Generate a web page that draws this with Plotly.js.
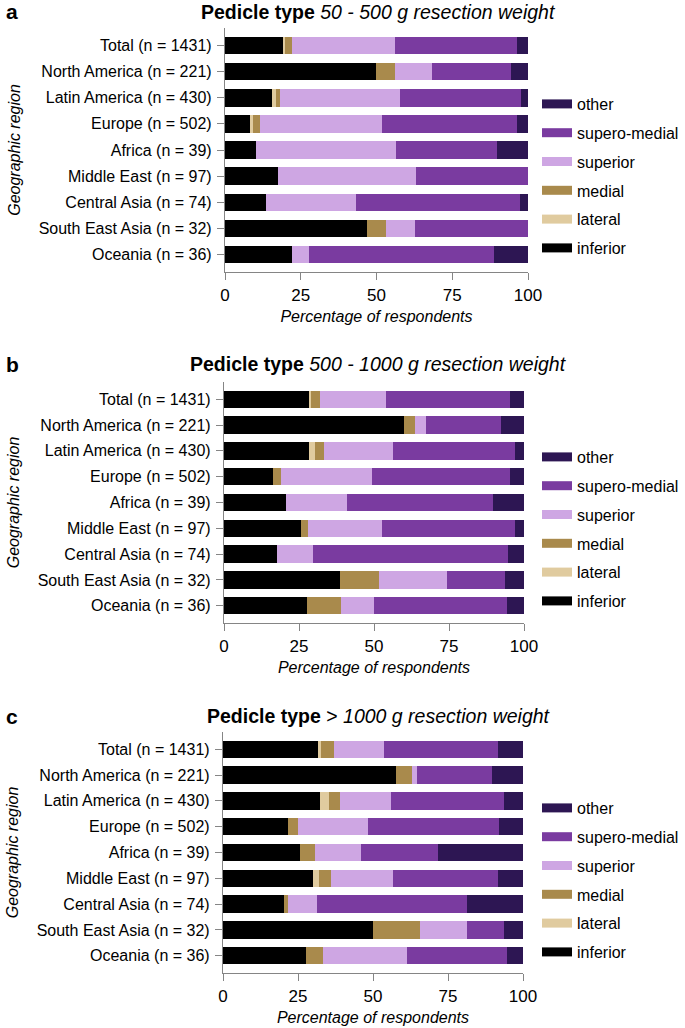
<!DOCTYPE html>
<html><head><meta charset="utf-8">
<script src="https://cdn.plot.ly/plotly-3.0.1.min.js"></script>
<style>html,body{margin:0;padding:0;background:#fff}</style>
</head><body><div id="chart" style="width:685px;height:1028px"></div>
<script>
// ---------- DATA ----------
const regions = ["Total (n = 1431)", "North America (n = 221)", "Latin America (n = 430)", "Europe (n = 502)", "Africa (n = 39)", "Middle East (n = 97)", "Central Asia (n = 74)", "South East Asia (n = 32)", "Oceania (n = 36)"];
const seriesNames = ["inferior", "lateral", "medial", "superior", "supero-medial", "other"];
const seriesColors = ["#000000", "#e0cb9f", "#a98a4c", "#cea6e3", "#7a3ba0", "#2d1653"];
const panelLetters = ["a", "b", "c"];
const panelTitles = [
  "<b>Pedicle type</b> <i>50 - 500 g resection weight</i>",
  "<b>Pedicle type</b> <i>500 - 1000 g resection weight</i>",
  "<b>Pedicle type</b> &gt; <i>1000 g resection weight</i>"
];
const xTickVals = [0, 25, 50, 75, 100];
const xTitle = "Percentage of respondents";
const yTitle = "Geographic region";

// Panel a: 50 - 500 g
const a_inferior     = [19.1, 49.8, 15.5, 8.3, 10.3, 17.5, 13.5, 46.9, 22.2];
const a_lateral      = [0.7, 0, 1.4, 0.8, 0, 0, 0, 0, 0];
const a_medial       = [2.3, 6.4, 1.4, 2.5, 0, 0, 0, 6.3, 0];
const a_superior     = [34.1, 12.1, 39.5, 40.1, 46.2, 45.4, 29.7, 9.4, 5.6];
const a_superoMedial = [40.3, 26.2, 39.9, 44.8, 33.3, 37.1, 54.1, 37.5, 61.1];
const a_other        = [3.5, 5.5, 2.3, 3.5, 10.3, 0, 2.7, 0, 11.1];

// Panel b: 500 - 1000 g
const b_inferior     = [28.2, 60.1, 28.2, 16.2, 20.5, 25.8, 17.6, 38.7, 27.8];
const b_lateral      = [0.7, 0, 2.2, 0, 0, 0, 0, 0, 0];
const b_medial       = [3.2, 3.6, 3.0, 2.9, 0, 2.1, 0, 12.9, 11.1];
const b_superior     = [21.8, 3.5, 23.0, 30.2, 20.5, 24.7, 12.2, 22.6, 11.1];
const b_superoMedial = [41.4, 25.1, 40.7, 46.0, 48.7, 44.3, 64.9, 19.4, 44.4];
const b_other        = [4.7, 7.7, 2.9, 4.7, 10.3, 3.1, 5.4, 6.5, 5.6];

// Panel c: > 1000 g
const c_inferior     = [31.8, 57.6, 32.4, 21.6, 25.6, 29.9, 20.3, 50.0, 27.8];
const c_lateral      = [0.9, 0, 2.8, 0, 0, 2.1, 0, 0, 0];
const c_medial       = [4.3, 5.4, 3.9, 3.4, 5.1, 4.1, 1.4, 15.6, 5.6];
const c_superior     = [16.8, 1.7, 16.8, 23.4, 15.4, 20.6, 9.5, 15.6, 27.8];
const c_superoMedial = [37.8, 25.0, 37.9, 43.6, 25.6, 35.1, 50.0, 12.5, 33.3];
const c_other        = [8.4, 10.3, 6.2, 8.0, 28.2, 8.2, 18.9, 6.3, 5.6];

const panelSeries = [
  [a_inferior, a_lateral, a_medial, a_superior, a_superoMedial, a_other],
  [b_inferior, b_lateral, b_medial, b_superior, b_superoMedial, b_other],
  [c_inferior, c_lateral, c_medial, c_superior, c_superoMedial, c_other]
];

// ---------- LAYOUT GEOMETRY (pixels) ----------
const W = 685, H = 1028;
const FONT = "Liberation Sans, Arial, Helvetica, sans-serif";
const geom = [
  {top: 28,  bottom: 272, left: 225, right: 528, titleY: 12,  legendTop: 87},
  {top: 382, bottom: 623, left: 224, right: 524, titleY: 364, legendTop: 440},
  {top: 732, bottom: 973, left: 223, right: 523, titleY: 716, legendTop: 791}
];
const px = v => v / W;
const py = v => 1 - v / H;
const AX = "#858585";

const data = [];
const layout = {
  width: W, height: H,
  margin: {l: 0, r: 0, t: 0, b: 0},
  paper_bgcolor: "#ffffff", plot_bgcolor: "#ffffff",
  barmode: "stack", bargap: 0.33,
  font: {family: FONT, color: "#000000", size: 16},
  annotations: [],
  showlegend: true
};

geom.forEach((g, i) => {
  const n = i + 1;
  const xa = n === 1 ? "x" : "x" + n;
  const ya = n === 1 ? "y" : "y" + n;
  const xk = n === 1 ? "xaxis" : "xaxis" + n;
  const yk = n === 1 ? "yaxis" : "yaxis" + n;
  const lk = n === 1 ? "legend" : "legend" + n;

  panelSeries[i].forEach((vals, s) => {
    data.push({
      type: "bar", orientation: "h",
      x: vals, y: regions,
      name: seriesNames[s],
      marker: {color: seriesColors[s], line: {width: 0}},
      xaxis: xa, yaxis: ya,
      showlegend: false,
      hovertemplate: "%{y}<br>" + seriesNames[s] + ": %{x}%<extra></extra>"
    });
  });
  // legend entries (wide swatches), top item = "other"
  for (let s = seriesNames.length - 1; s >= 0; s--) {
    data.push({
      type: "scatter", mode: "lines",
      x: [null], y: [null],
      name: seriesNames[s],
      line: {color: seriesColors[s], width: 9},
      xaxis: xa, yaxis: ya,
      legend: lk, legendgroup: lk + seriesNames[s],
      showlegend: true, hoverinfo: "skip"
    });
  }

  layout[xk] = {
    domain: [px(g.left), px(g.right)],
    anchor: ya,
    range: [0, 100], tickvals: xTickVals,
    showgrid: false, zeroline: false,
    showline: true, linecolor: AX, linewidth: 1.3,
    ticks: "outside", ticklen: 7, tickwidth: 1.3, tickcolor: AX,
    tickfont: {size: 17, color: "#000", family: FONT},
    title: {text: "<i>" + xTitle + "</i>", font: {size: 16, color: "#000", family: FONT}, standoff: 7},
    fixedrange: true
  };
  layout[yk] = {
    domain: [py(g.bottom), py(g.top)],
    anchor: xa,
    type: "category", categoryorder: "array", categoryarray: regions,
    range: [8.67, -0.67],
    showgrid: false, zeroline: false,
    showline: true, linecolor: AX, linewidth: 1.3,
    ticks: "outside", ticklen: 7, tickwidth: 1.3, tickcolor: AX,
    tickfont: {size: 16, color: "#000", family: FONT},
    ticklabelstandoff: 2,
    title: {text: "<i>" + yTitle + "</i>", font: {size: 16, color: "#000", family: FONT}, standoff: 14},
    fixedrange: true
  };
  layout[lk] = {
    x: px(537), xanchor: "left",
    y: py(g.legendTop), yanchor: "top",
    bgcolor: "rgba(0,0,0,0)", borderwidth: 0,
    font: {size: 16, color: "#000", family: FONT},
    traceorder: "grouped", tracegroupgap: 5,
    itemwidth: 30, itemclick: false, itemdoubleclick: false
  };

  layout.annotations.push({
    xref: "paper", yref: "paper",
    x: px(379), y: py(g.titleY), xanchor: "center", yanchor: "middle",
    text: panelTitles[i], showarrow: false,
    font: {size: 19.5, color: "#000", family: FONT}
  });
  layout.annotations.push({
    xref: "paper", yref: "paper",
    x: px(4), y: py(g.titleY), xanchor: "left", yanchor: "middle",
    text: "<b>" + panelLetters[i] + "</b>", showarrow: false,
    font: {size: 21, color: "#000", family: FONT}
  });
});

Plotly.newPlot("chart", data, layout, {displayModeBar: false, staticPlot: false});
</script>
</body></html>
